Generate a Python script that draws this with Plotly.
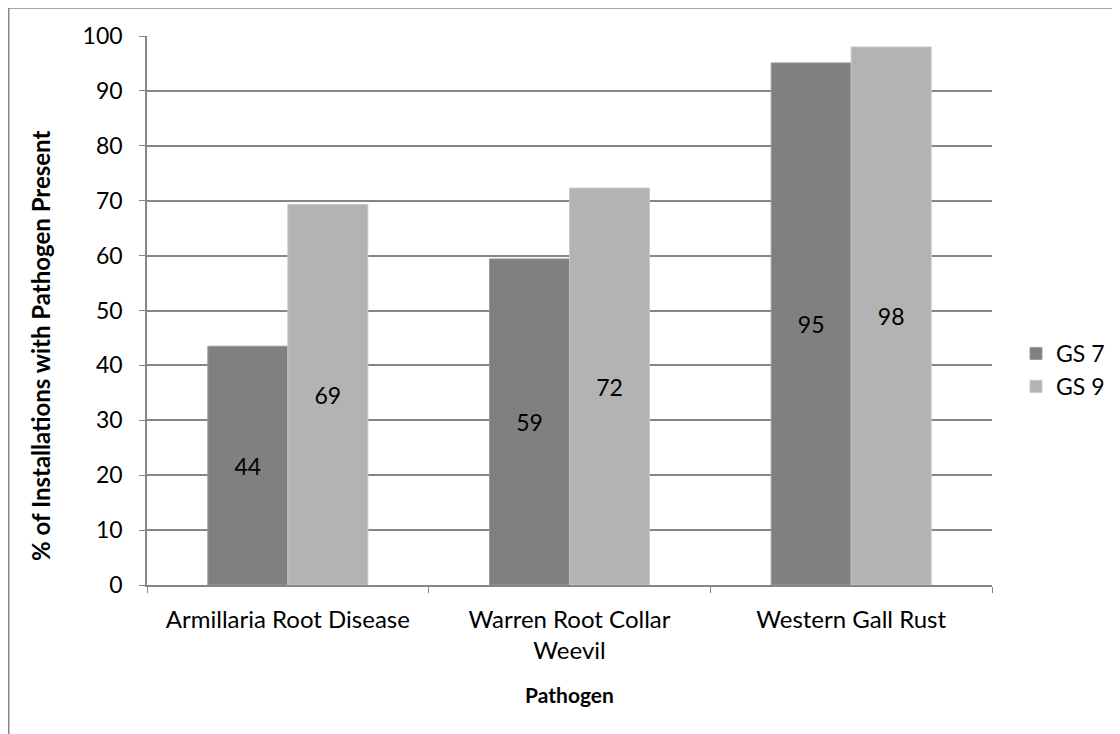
import plotly.graph_objects as go

categories = ["Armillaria Root Disease", "Warren Root Collar<br>Weevil", "Western Gall Rust"]
gs7_values = [43.5, 59.4, 95.1]
gs9_values = [69.3, 72.3, 98.0]
gs7_labels = ["44", "59", "95"]
gs9_labels = ["69", "72", "98"]
y_ticks = [0, 10, 20, 30, 40, 50, 60, 70, 80, 90, 100]

FONT = "Lato, 'Open Sans', sans-serif"
FS = 23

fig = go.Figure()
fig.add_trace(go.Bar(
    x=categories, y=gs7_values, name="GS 7",
    text=gs7_labels, textposition="inside", insidetextanchor="middle",
    textfont=dict(size=FS, color="black", family=FONT),
    marker=dict(color="#808080", line=dict(color="#9a9a9a", width=1)),
))
fig.add_trace(go.Bar(
    x=categories, y=gs9_values, name="GS 9",
    text=gs9_labels, textposition="inside", insidetextanchor="middle",
    textfont=dict(size=FS, color="black", family=FONT),
    marker=dict(color="#b3b3b3", line=dict(color="#c8c8c8", width=1)),
))

# page body adds an 8px offset; coordinates below are figure pixels
W, H = 1120, 734
L, T = 139, 28
R = W - 984
B = H - 577
pw, ph = W - L - R, H - T - B

fig.update_layout(
    width=W, height=H,
    margin=dict(l=L, r=R, t=T, b=B),
    paper_bgcolor="white", plot_bgcolor="white",
    barmode="group", bargap=0.432, bargroupgap=0,
    font=dict(family=FONT, size=FS, color="black"),
    uniformtext=dict(mode="show", minsize=FS),
    legend=dict(x=(1008 - L) / pw, y=(577 - 362) / ph, xanchor="left", yanchor="middle",
                font=dict(size=FS), itemwidth=30, tracegroupgap=0,
                bgcolor="rgba(0,0,0,0)"),
    showlegend=True,
)
fig.update_xaxes(
    type="category", showline=True, linecolor="#868686", linewidth=1.5,
    ticks="outside", tickson="boundaries", ticklen=6, tickcolor="#868686",
    tickfont=dict(size=24), ticklabelstandoff=12,
    title=dict(text="<b>Pathogen</b>", font=dict(size=21), standoff=26),
    showgrid=False,
)
fig.update_yaxes(
    range=[0, 100], tickvals=y_ticks, showline=True, linecolor="#868686", linewidth=1.5,
    ticks="outside", ticklen=6, tickcolor="#868686",
    showgrid=True, gridcolor="#868686", gridwidth=1.5,
    tickfont=dict(size=FS), zeroline=False, ticklabelstandoff=12,
)

# y-axis title as annotation (Excel centres it on the chart area, not plot area)
fig.add_annotation(
    text="<b>% of Installations with Pathogen Present</b>", textangle=-90,
    xref="paper", yref="paper", x=(32 - L) / pw, y=(577 - 338) / ph,
    xanchor="center", yanchor="middle", showarrow=False, font=dict(size=24),
)

# chart border (top and left edges)
x_left = (0.75 - L) / pw
y_top = (H - B - 0) / ph
fig.add_shape(type="line", xref="paper", yref="paper", x0=x_left, x1=(W + 10 - L) / pw,
              y0=y_top, y1=y_top, line=dict(color="#888888", width=1.5))
fig.add_shape(type="line", xref="paper", yref="paper", x0=x_left, x1=x_left,
              y0=y_top, y1=-(B + 10) / ph, line=dict(color="#888888", width=1.5))

fig.write_html("out.html")
